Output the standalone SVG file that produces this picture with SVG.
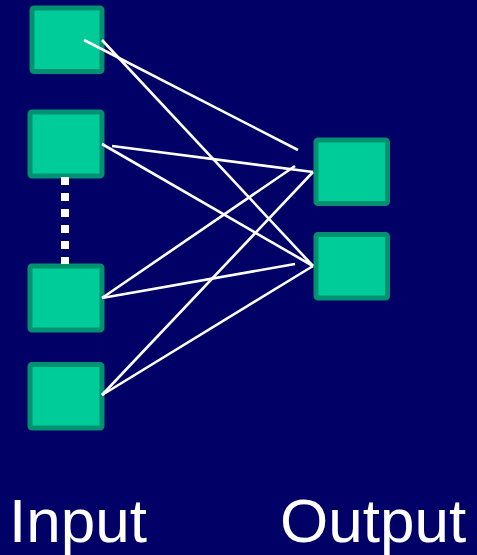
<svg xmlns="http://www.w3.org/2000/svg" width="477" height="555" viewBox="0 0 477 555">
  <style>
    .unit { fill: #00CC99; stroke: #009270; stroke-width: 5; }
    .link { stroke: #FFFFFF; stroke-width: 2.6; fill: none; }
    .label { font-family: "Liberation Sans", Arial, sans-serif; font-size: 62px; fill: #FFFFFF; }
  </style>
  <rect width="477" height="555" fill="#000066"/>

  <g id="input1"><rect class="unit" x="32" y="8" width="70" height="63.5" rx="2"/></g>
  <g id="input2"><rect class="unit" x="30" y="112" width="72" height="64" rx="2"/></g>
  <g id="input3"><rect class="unit" x="30" y="266" width="72" height="64" rx="2"/></g>
  <g id="input4"><rect class="unit" x="30" y="364.5" width="72" height="63.5" rx="2"/></g>
  <g id="output1"><rect class="unit" x="316" y="140" width="71.5" height="63.5" rx="2"/></g>
  <g id="output2"><rect class="unit" x="316" y="234.5" width="71.5" height="63.5" rx="2"/></g>

  <!-- connections between input and output units, drawn over the units -->
  <g id="connectors">
    <line class="link" x1="84" y1="40" x2="298" y2="150"/>
    <line class="link" x1="102" y1="40" x2="313" y2="266"/>
    <line class="link" x1="112" y1="146" x2="313" y2="172"/>
    <line class="link" x1="102" y1="144" x2="313" y2="266"/>
    <line class="link" x1="102" y1="298" x2="295" y2="166"/>
    <line class="link" x1="102" y1="298" x2="295" y2="264"/>
    <line class="link" x1="102" y1="395" x2="313" y2="172"/>
    <line class="link" x1="102" y1="395" x2="313" y2="266"/>
    <!-- ellipsis between input units -->
    <line x1="65" y1="177" x2="65" y2="264" stroke="#FFFFFF" stroke-width="8" stroke-dasharray="8 8"/>
  </g>

  <g id="labels">
    <text class="label" x="9" y="542">Input</text>
    <text class="label" x="280" y="542">Output</text>
  </g>
</svg>
